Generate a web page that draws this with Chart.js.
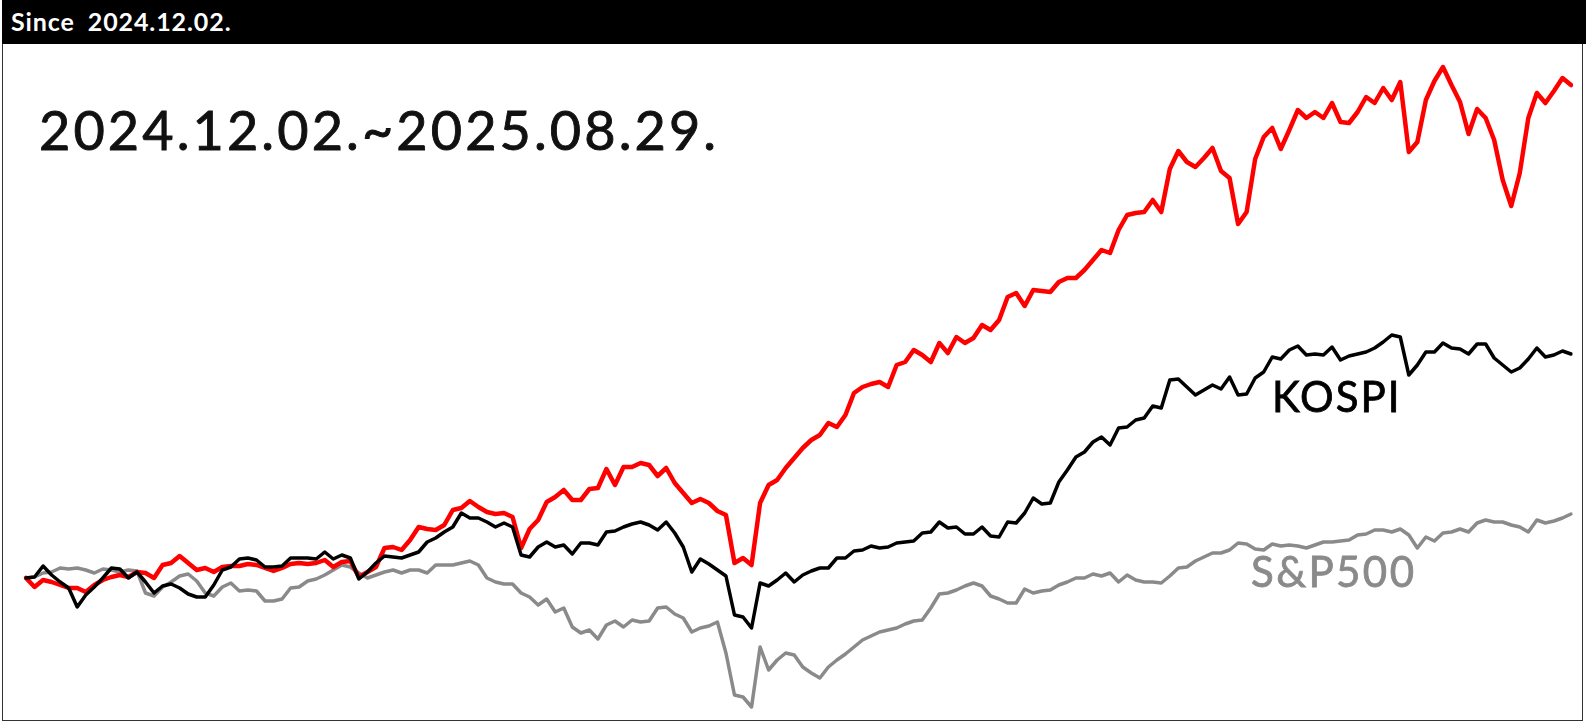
<!DOCTYPE html>
<html>
<head>
<meta charset="utf-8">
<script src="https://cdn.jsdelivr.net/npm/chart.js@4.4.1/dist/chart.umd.min.js"></script>
<style>
  html, body { margin: 0; padding: 0; background: #fff; }
  #wrap { position: relative; width: 1588px; height: 727px; overflow: hidden; font-family: Lato, 'Noto Sans', sans-serif; }
  #frame { position: absolute; left: 2px; top: 0; width: 1581px; height: 721px; border: 1px solid #333; box-sizing: border-box; }
  #header { position: absolute; left: 2px; top: 0; width: 1584px; height: 44px; background: #000; }
  #header span { position: absolute; left: 9px; top: 9px; color: #fff; font-size: 25px; font-weight: 700; line-height: 25px; letter-spacing: 0.9px; word-spacing: 6px; }
  #title { position: absolute; left: 39px; top: 103px; font-size: 54px; line-height: 54px; color: #111; letter-spacing: 3.1px; -webkit-text-stroke: 0.9px #111; }
  .tag { position: absolute; font-size: 42px; line-height: 42px; -webkit-text-stroke: 0.8px currentColor; }
  #kospi { left: 1272px; top: 375px; color: #000; letter-spacing: 2px; }
  #spx { left: 1251px; top: 550px; color: #8a8a8a; letter-spacing: 2.4px; }
  canvas { position: absolute; left: 0; top: 0; }
</style>
</head>
<body>
<div id="wrap">
  <canvas id="perf-chart" width="1588" height="727"></canvas>
  <div id="frame"></div>
  <div id="header"><span>Since 2024.12.02.</span></div>
  <div id="title">2024.12.02.~2025.08.29.</div>
  <div class="tag" id="kospi">KOSPI</div>
  <div class="tag" id="spx">S&amp;P500</div>
</div>
<script>
// cumulative change since 2024.12.02 (one point per trading day)
const portfolio = [
  0.0, -0.9, -0.2, -0.4, -0.7, -1.0, -1.0, -1.4, -0.7, -0.2,
  0.1, 0.3, 0.1, 0.6, 0.5, 0.0, 1.3, 1.5, 2.2, 1.5,
  0.8, 1.0, 0.6, 1.1, 1.2, 1.2, 1.4, 1.3, 1.0, 0.7,
  1.0, 1.4, 1.5, 1.4, 1.5, 1.8, 1.1, 1.6, 1.7, 0.1,
  0.6, 1.1, 3.0, 3.1, 2.8, 3.8, 5.1, 4.9, 4.8, 5.3,
  6.8, 7.0, 7.7, 7.1, 6.6, 6.4, 6.5, 6.1, 3.0, 4.9,
  5.8, 7.6, 8.1, 8.8, 7.8, 7.8, 8.9, 9.0, 10.9, 9.3,
  11.1, 11.1, 11.5, 11.3, 10.2, 11.0, 9.5, 8.5, 7.5, 7.9,
  7.5, 6.7, 6.3, 1.5, 2.0, 1.3, 7.5, 9.3, 9.8, 11.0,
  12.0, 13.0, 13.8, 14.3, 15.5, 15.1, 16.3, 18.5, 19.1, 19.4,
  19.6, 19.1, 21.3, 21.6, 22.8, 22.3, 21.6, 23.5, 22.5, 24.1,
  23.5, 24.0, 25.3, 24.8, 25.8, 28.1, 28.5, 27.2, 28.8, 28.7,
  28.6, 29.6, 30.0, 30.0, 30.8, 31.8, 32.8, 32.5, 34.8, 36.3,
  36.5, 36.6, 37.8, 36.6, 40.9, 42.7, 41.6, 41.1, 42.0, 43.0,
  40.7, 40.0, 35.4, 36.6, 41.9, 44.1, 45.0, 42.9, 44.8, 46.8,
  46.0, 46.6, 46.0, 47.5, 45.6, 45.5, 46.6, 48.1, 47.5, 49.0,
  47.8, 49.6, 42.6, 43.6, 47.8, 49.7, 51.1, 49.3, 47.6, 44.4,
  46.9, 46.0, 43.8, 39.8, 37.2, 40.5, 46.0, 48.5, 47.5, 48.7,
  50.0, 49.3
]

const kospi = [
  0.0, 0.1, 1.2, 0.3, -0.4, -1.0, -2.9, -1.7, -0.9, 0.0,
  1.0, 0.9, 0.0, 0.6, -0.4, -1.5, -0.8, -0.6, -1.0, -1.6,
  -1.9, -1.9, -0.7, 0.8, 1.1, 1.9, 2.0, 1.8, 1.1, 1.1,
  1.2, 2.0, 2.0, 2.0, 1.9, 2.6, 1.9, 2.3, 2.0, -0.1,
  0.6, 1.5, 2.2, 2.1, 2.0, 2.3, 2.6, 3.6, 4.0, 4.6,
  5.1, 6.5, 6.0, 6.0, 5.6, 5.1, 5.5, 5.1, 2.3, 2.1,
  3.1, 3.6, 3.1, 3.3, 2.4, 3.5, 3.5, 3.3, 4.6, 4.7,
  5.1, 5.4, 5.6, 5.3, 4.8, 5.6, 4.5, 3.1, 0.6, 1.9,
  1.4, 0.8, 0.2, -3.7, -3.9, -5.0, -0.5, -0.8, -0.2, 0.5,
  -0.4, 0.3, 0.7, 1.0, 1.0, 2.0, 2.0, 2.7, 2.8, 3.2,
  3.0, 3.1, 3.5, 3.6, 3.7, 4.5, 4.6, 5.6, 5.0, 5.1,
  4.4, 4.4, 5.1, 4.2, 4.1, 5.6, 5.5, 6.5, 8.0, 7.4,
  7.5, 9.6, 10.8, 12.1, 12.6, 13.6, 14.1, 13.3, 15.0, 15.1,
  15.8, 16.0, 17.2, 17.0, 19.8, 19.9, 19.1, 18.3, 18.8, 19.3,
  18.9, 20.1, 18.3, 18.4, 20.0, 20.6, 22.1, 21.9, 22.8, 23.2,
  22.3, 22.4, 22.3, 23.1, 21.8, 22.2, 22.4, 22.6, 23.0, 23.6,
  24.3, 24.1, 20.3, 21.3, 22.6, 22.6, 23.5, 23.0, 22.9, 22.4,
  23.4, 23.4, 22.0, 21.3, 20.6, 21.0, 21.9, 23.0, 22.1, 22.3,
  22.7, 22.4
]

const sp500 = [
  0.0, 0.1, 0.5, 0.6, 1.0, 0.9, 1.0, 0.8, 0.5, 0.9,
  0.8, 0.6, 0.8, 0.7, -1.5, -1.8, -0.9, -0.4, 0.2, 0.4,
  -0.3, -1.5, -1.8, -0.9, -0.5, -1.3, -1.2, -1.3, -2.3, -2.3,
  -2.1, -1.0, -0.9, -0.3, -0.1, 0.3, 0.8, 1.3, 1.1, 0.5,
  0.0, 0.3, 0.6, 0.8, 0.5, 0.8, 0.8, 0.5, 1.3, 1.3,
  1.3, 1.5, 1.7, 1.3, 0.0, -0.4, -0.6, -0.6, -1.5, -1.9,
  -2.7, -2.1, -3.4, -3.0, -4.9, -5.5, -5.2, -6.1, -4.7, -4.3,
  -4.9, -4.2, -4.4, -4.3, -3.0, -2.9, -3.6, -4.0, -5.4, -5.0,
  -4.8, -4.4, -7.5, -11.7, -11.9, -12.9, -6.9, -9.2, -8.2, -7.5,
  -7.7, -8.9, -9.5, -10.0, -8.9, -8.2, -7.6, -6.9, -6.2, -5.8,
  -5.4, -5.2, -5.0, -4.6, -4.3, -4.2, -3.0, -1.6, -1.5, -1.2,
  -0.8, -0.5, -0.8, -1.8, -2.1, -2.5, -2.5, -1.1, -1.5, -1.3,
  -1.2, -0.7, -0.4, 0.0, 0.0, 0.4, 0.2, 0.5, -0.4, 0.3,
  -0.2, -0.4, -0.4, -0.5, 0.2, 1.0, 1.1, 1.7, 2.1, 2.5,
  2.5, 2.8, 3.5, 3.4, 2.9, 2.8, 3.4, 3.2, 3.3, 3.2,
  3.0, 3.3, 3.6, 3.6, 3.7, 3.8, 4.3, 4.4, 4.8, 4.8,
  4.6, 4.9, 4.3, 3.0, 4.1, 3.7, 4.5, 4.6, 4.9, 4.6,
  5.5, 5.8, 5.6, 5.6, 5.3, 5.1, 4.6, 5.8, 5.5, 5.7,
  6.0, 6.4
]

// x axis is hidden, so the day number is enough as a category
const days = portfolio.map((v, i) => i + 1)

const ctx = document.getElementById('perf-chart').getContext('2d')
const perfChart = new Chart(ctx, {
  type: 'line',
  data: {
    labels: days,
    datasets: [
      { label: 'KOSPI', data: kospi, borderColor: '#000000', borderWidth: 3.5 },
      { label: 'Portfolio', data: portfolio, borderColor: '#ff0000', borderWidth: 4.5 },
      { label: 'S&P500', data: sp500, borderColor: '#8a8a8a', borderWidth: 3.5 }
    ]
  },
  options: {
    responsive: false,
    animation: false,
    devicePixelRatio: 1,
    layout: { padding: { left: 26, right: 17, top: 48, bottom: 9 } },
    elements: {
      point: { radius: 0 },
      line: { tension: 0, borderJoinStyle: 'round', borderCapStyle: 'round' }
    },
    plugins: { legend: { display: false }, tooltip: { enabled: false } },
    scales: {
      x: { display: false, offset: false },
      y: { display: false, min: -14, max: 53 }
    }
  }
})
</script>
</body>
</html>
